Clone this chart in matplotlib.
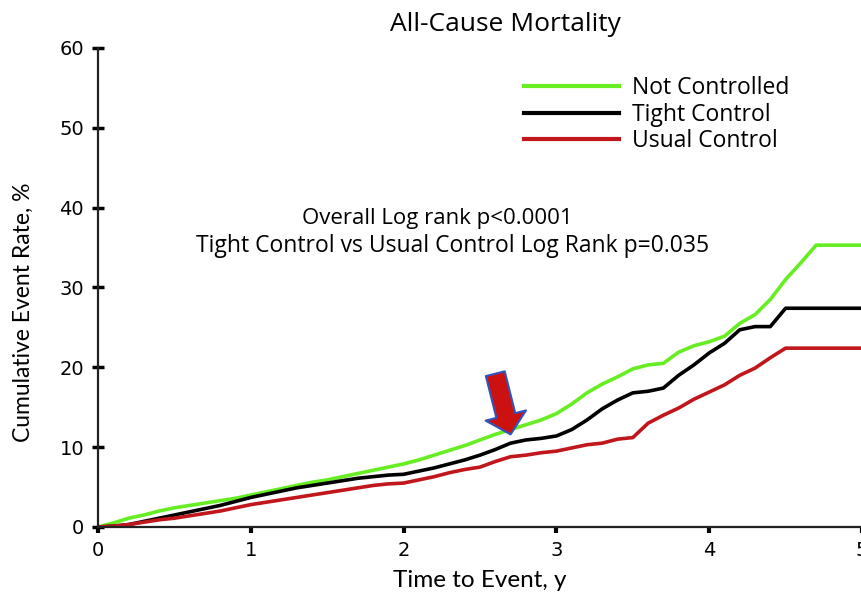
import numpy as np
from matplotlib import pyplot as plt

# time grid (years) and cumulative event rates (%)
t = [0, 0.1, 0.2, 0.3, 0.4, 0.5, 0.6, 0.7, 0.8, 0.9,
     1.0, 1.1, 1.2, 1.3, 1.4, 1.5, 1.6, 1.7, 1.8, 1.9,
     2.0, 2.1, 2.2, 2.3, 2.4, 2.5, 2.6, 2.7, 2.8, 2.9,
     3.0, 3.1, 3.2, 3.3, 3.4, 3.5, 3.6, 3.7, 3.8, 3.9,
     4.0, 4.1, 4.2, 4.3, 4.4, 4.5, 4.6, 4.7, 5.0]
not_controlled = [0, 0.5, 1.1, 1.5, 2.0, 2.4, 2.7, 3.0, 3.3, 3.6,
                  4.0, 4.4, 4.8, 5.2, 5.6, 5.9, 6.3, 6.7, 7.1, 7.5,
                  7.9, 8.4, 9.0, 9.6, 10.2, 10.9, 11.6, 12.2, 12.8, 13.4,
                  14.2, 15.4, 16.8, 17.9, 18.8, 19.8, 20.3, 20.5, 21.9, 22.7,
                  23.2, 23.9, 25.5, 26.6, 28.5, 31.0, 33.1, 35.3, 35.3]
tight_control = [0, 0.1, 0.3, 0.7, 1.1, 1.5, 1.9, 2.3, 2.7, 3.2,
                 3.7, 4.1, 4.5, 4.9, 5.2, 5.5, 5.8, 6.1, 6.3, 6.5,
                 6.6, 7.0, 7.4, 7.9, 8.4, 9.0, 9.7, 10.5, 10.9, 11.1,
                 11.4, 12.2, 13.4, 14.8, 15.9, 16.8, 17.0, 17.4, 19.0, 20.3,
                 21.8, 23.0, 24.7, 25.1, 25.1, 27.4, 27.4, 27.4, 27.4]
usual_control = [0, 0.1, 0.3, 0.6, 0.9, 1.1, 1.4, 1.7, 2.0, 2.4,
                 2.8, 3.1, 3.4, 3.7, 4.0, 4.3, 4.6, 4.9, 5.2, 5.4,
                 5.5, 5.9, 6.3, 6.8, 7.2, 7.5, 8.2, 8.8, 9.0, 9.3,
                 9.5, 9.9, 10.3, 10.5, 11.0, 11.2, 13.0, 14.0, 14.9, 16.0,
                 16.9, 17.8, 19.0, 19.9, 21.2, 22.4, 22.4, 22.4, 22.4]

labels = ["Not Controlled", "Tight Control", "Usual Control"]
colors = ["#66ee22", "#000000", "#c0161c"]

if __name__ == '__main__':
  fig = plt.figure(figsize=(8.62, 5.96), dpi=100)
  ax = fig.add_axes([0.1137, 0.1158, 0.8863, 0.8037])

  for y, lab, c in zip([not_controlled, tight_control, usual_control], labels, colors):
    ax.plot(t, y, color=c, linewidth=2.6, label=lab)

  ax.set_xlim(0, 5)
  ax.set_ylim(0, 60)
  ax.set_xticks(range(0, 6))
  ax.set_yticks(range(0, 61, 10))
  ax.spines['top'].set_visible(False)
  ax.spines['right'].set_visible(False)
  for s in ['left', 'bottom']:
    ax.spines[s].set_linewidth(1.6)
    ax.spines[s].set_color('#222222')
  ax.tick_params(axis='y', direction='inout', length=8, width=2.5, labelsize=14, pad=6)
  ax.tick_params(axis='x', direction='out', length=4, width=3, labelsize=14, pad=6)

  ax.set_title("All-Cause Mortality", fontsize=19, family='Open Sans', pad=12, x=0.533)
  ax.set_xlabel("Time to Event, y", fontsize=17.5, family='Lato', labelpad=7)
  ax.set_ylabel("Cumulative Event Rate, %", fontsize=16.5, family='Lato')
  ax.yaxis.set_label_coords(-0.084, 0.449)

  ax.text(2.22, 38.7, "Overall Log rank p<0.0001", ha='center', va='center',
          fontsize=16, family='Open Sans')
  ax.text(2.32, 35.2, "Tight Control vs Usual Control Log Rank p=0.035", ha='center', va='center',
          fontsize=16.5, family='Open Sans')

  # arrow pointing at the curves
  ax.annotate('', xy=(2.70, 11.6), xytext=(2.6, 19.2),
              arrowprops=dict(arrowstyle='simple,head_width=1.5,head_length=0.7,tail_width=0.7',
                              mutation_scale=20, shrinkA=0, shrinkB=0,
                              fc='#cc1111', ec='#3355bb', lw=1.5))

  leg = ax.legend(loc='upper left', bbox_to_anchor=(0.53, 0.985), frameon=False,
                  handlelength=4.15, labelspacing=0.12, handletextpad=0.6,
                  prop={'family': 'Open Sans', 'size': 16.5})
  for line in leg.get_lines():
    line.set_linewidth(3)

  plt.savefig('out.png', dpi=100)
